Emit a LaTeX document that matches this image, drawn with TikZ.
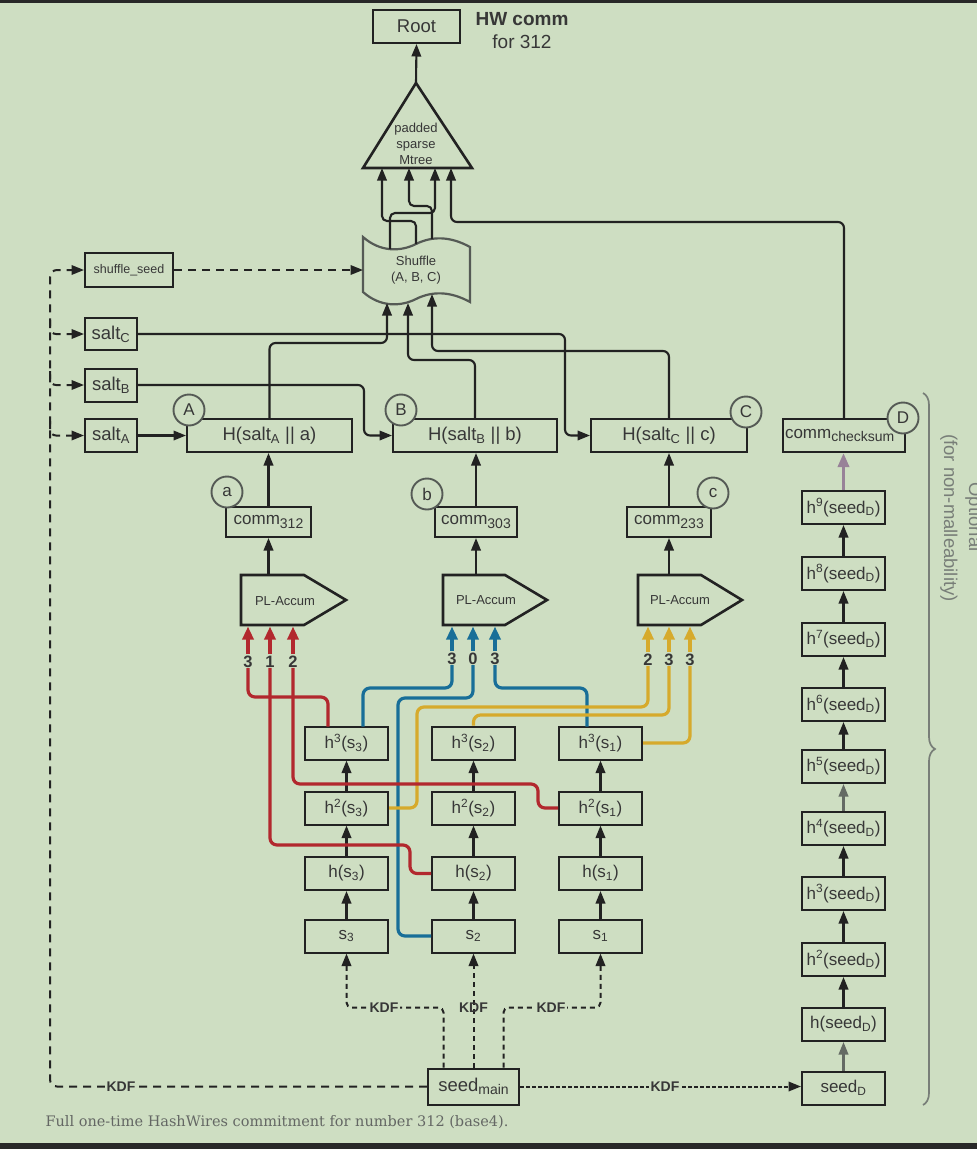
\documentclass[tikz,border=0pt]{standalone}
\usepackage{fontspec}
\setmainfont{Liberation Sans}
\newfontfamily\capfont{DejaVu Serif}
\usetikzlibrary{arrows.meta,decorations.pathreplacing,calc}
\definecolor{bg}{RGB}{206,222,194}
\definecolor{ln}{RGB}{34,34,34}
\definecolor{tx}{RGB}{55,55,55}
\definecolor{shc}{RGB}{85,90,85}
\definecolor{wred}{RGB}{178,40,46}
\definecolor{wblue}{RGB}{24,110,152}
\definecolor{wyel}{RGB}{214,170,44}
\definecolor{mauve}{RGB}{152,130,152}
\definecolor{grarr}{RGB}{100,106,100}
\definecolor{brc}{RGB}{120,126,120}
\definecolor{captc}{RGB}{100,103,100}
\definecolor{dark}{RGB}{40,40,40}
\newcommand{\fsL}{\fontsize{18.5}{20}\selectfont}
\newcommand{\fsM}{\fontsize{17}{19}\selectfont}
\newcommand{\fsS}{\fontsize{13}{16}\selectfont}
\newcommand{\fsK}{\fontsize{14}{16}\selectfont}
\newcommand{\lowsub}[1]{\raisebox{-3.5pt}{\fontsize{14}{14}\selectfont #1}}
\begin{document}
\begin{tikzpicture}[x=1pt,y=-1pt,
  box/.style={draw=ln, line width=2pt, fill=bg, inner sep=0pt, text=tx},
  chain/.style={box, minimum width=83pt, minimum height=33pt, font=\fsM},
  arr/.style={draw=ln, line width=2.1pt, -{Triangle[length=12.5pt,width=9.5pt]}},
  arrD/.style={-{Triangle[length=12.5pt,width=9.5pt]}},
  circ/.style={circle, draw=shc, line width=1.9pt, fill=bg, minimum size=31pt, inner sep=0pt, text=tx, font=\fsM},
  plst/.style={draw=ln, line width=2.6pt, fill=bg, line join=miter},
  carr/.style={line width=3.2pt, -{Triangle[length=13pt,width=11pt]}},
  cw/.style={line width=3.2pt, rounded corners=7pt},
  digit/.style={font=\bfseries\fontsize{16.5}{16.5}\selectfont, text=tx, inner sep=0pt},
  ldash/.style={draw=ln, line width=2pt, dash pattern=on 8pt off 6pt},
  kdash/.style={draw=ln, line width=2pt, dash pattern=on 5pt off 4pt},
  ddash/.style={draw=ln, line width=2pt, dash pattern=on 3.5pt off 2.5pt},
  kdf/.style={font=\bfseries\fsK, text=tx, inner sep=1.5pt}
]
\fill[bg] (0,0) rectangle (977,1149);
\useasboundingbox (0,0) rectangle (977,1149);
\clip (0,0) rectangle (977,1149);
\fill[dark] (0,0) rectangle (977,3);
\fill[dark] (0,1143) rectangle (977,1149);

% ---------- top ----------
\node[box, minimum width=87pt, minimum height=33pt, font=\fsL] (root) at (416.5,26.5) {Root};
\node[font=\bfseries\fontsize{19}{21}\selectfont, text=tx] (hw) at (522,19) {HW comm};
\node[font=\fontsize{19}{21}\selectfont, text=tx] (for) at (522,42) {for 312};

\coordinate (tapex) at (416,83);
\coordinate (tbl) at (363,168);
\coordinate (tbr) at (472,168);
\draw[draw=ln, line width=2.6pt, fill=bg, line join=miter] (tapex) -- (tbr) -- (tbl) -- cycle;
\node[font=\fsS, align=center, text=tx] (mtree) at (416,144) {padded\\sparse\\Mtree};
\draw[arr] (tapex) -- (root.south);
\coordinate (t1) at (382,168);
\coordinate (t2) at (409,168);
\coordinate (t3) at (435,168);
\coordinate (t4) at (451,168);

% ---------- shuffle ----------
\draw[draw=shc, line width=2.2pt, fill=bg] (363,237) .. controls (380,252) and (400,252) .. (416,244) .. controls (432,236) and (450,236) .. (470,247) -- (470,302) .. controls (450,291) and (432,291) .. (416,299) .. controls (400,307) and (380,307) .. (363,292) -- cycle;
\node[font=\fsS, align=center, text=tx] (shuf) at (416,270) {Shuffle\\(A, B, C)};
\coordinate (so1) at (390,249);
\coordinate (so2) at (416,244);
\coordinate (so3) at (432,239);
\coordinate (si1) at (387,303);
\coordinate (si2) at (408,303);
\coordinate (si3) at (432,294);
\coordinate (sl) at (363,270);

\draw[arr, rounded corners=5pt] (so1) |- (435,213) -- (t3);
\draw[arr, rounded corners=5pt] (so2) |- (382,221) -- (t1);
\draw[arr, rounded corners=5pt] (so3) |- (409,206) -- (t2);

% ---------- salts ----------
\node[box, minimum width=88pt, minimum height=34pt, font=\fontsize{12.5}{14}\selectfont] (ss) at (129,270) {shuffle\_seed};
\node[box, minimum width=52pt, minimum height=32pt, font=\fsL] (sC) at (111,334) {salt\textsubscript{C}};
\node[box, minimum width=52pt, minimum height=33pt, font=\fsL] (sB) at (111,385) {salt\textsubscript{B}};
\node[box, minimum width=52pt, minimum height=33pt, font=\fsL] (sA) at (111,435.5) {salt\textsubscript{A}};

% ---------- H boxes ----------
\node[box, minimum width=165pt, minimum height=33pt, font=\fsL] (hA) at (269.5,435.5) {H(salt\textsubscript{A} || a)};
\node[box, minimum width=164pt, minimum height=33pt, font=\fsL] (hB) at (475,435.5) {H(salt\textsubscript{B} || b)};
\node[box, minimum width=156pt, minimum height=33pt, font=\fsL] (hC) at (669,435.5) {H(salt\textsubscript{C} || c)};
\node[box, minimum width=122pt, minimum height=33pt, font=\fsM, text width=118pt, align=left] (chk) at (844,435.5) {comm\lowsub{checksum}};

\draw[arr, rounded corners=6pt] (chk.north) |- (451,222) -- (t4);
\draw[ldash, arrD] (ss.east) -- (sl);

\draw[arr] (sA.east) -- (hA.west);
\draw[arr, rounded corners=6pt] (sB.east) -- (364,385) |- (hB.west);
\draw[arr, rounded corners=6pt] (sC.east) -- (565,334) |- (hC.west);

\draw[arr, rounded corners=6pt] (hA.north) |- (387,343) -- (si1);
\draw[arr, rounded corners=6pt] (hB.north) |- (408,360) -- (si2);
\draw[arr, rounded corners=6pt] (hC.north) |- (432,351) -- (si3);

% ---------- comm boxes ----------
\node[box, minimum width=85pt, minimum height=30pt, font=\fsM] (c312) at (268.5,522) {comm\lowsub{312}};
\node[box, minimum width=82pt, minimum height=30pt, font=\fsM] (c303) at (476,522) {comm\lowsub{303}};
\node[box, minimum width=84pt, minimum height=30pt, font=\fsM] (c233) at (669,522) {comm\lowsub{233}};
\draw[arr] (c312.north) -- (c312.north |- hA.south);
\draw[arr] (c303.north) -- (c303.north |- hB.south);
\draw[arr] (c233.north) -- (c233.north |- hC.south);

% circles
\node[circ] (cA) at (189,410) {A};
\node[circ] (cB) at (401,410) {B};
\node[circ] (cC) at (746,412) {C};
\node[circ] (cD) at (903,418) {D};
\node[circ] (ca) at (227,492) {a};
\node[circ] (cb) at (427,494) {b};
\node[circ] (cc) at (713,493) {c};

% ---------- PL-Accum ----------
\draw[plst] (241,575) -- (304,575) -- (346,600) -- (304,625) -- (241,625) -- cycle;
\draw[plst] (443,575) -- (505,575) -- (547,600) -- (505,625) -- (443,625) -- cycle;
\draw[plst] (638,575) -- (701,575) -- (742,600) -- (701,625) -- (638,625) -- cycle;
\node[font=\fsS, text=tx] (pl1) at (285,601) {PL-Accum};
\node[font=\fsS, text=tx] (pl2) at (486,600) {PL-Accum};
\node[font=\fsS, text=tx] (pl3) at (680,600) {PL-Accum};
\coordinate (p1t) at (268.5,575);
\coordinate (p2t) at (476,575);
\coordinate (p3t) at (669,575);
\draw[arr] (p1t) -- (c312.south);
\draw[arr] (p2t) -- (c303.south);
\draw[arr] (p3t) -- (c233.south);
\coordinate (plb) at (0,626.5);

% digits
\node[digit] (dr1) at (248,662) {3};
\node[digit] (dr2) at (270,662) {1};
\node[digit] (dr3) at (293,662) {2};
\node[digit] (db1) at (452,659) {3};
\node[digit] (db2) at (473,659) {0};
\node[digit] (db3) at (495,659) {3};
\node[digit] (dy1) at (648,660) {2};
\node[digit] (dy2) at (669,660) {3};
\node[digit] (dy3) at (690,660) {3};
\foreach \n in {dr1,dr2,dr3} \draw[carr, draw=wred, fill=wred] ($(\n.north)+(0,-2)$) -- (\n |- plb);
\foreach \n in {db1,db2,db3} \draw[carr, draw=wblue, fill=wblue] ($(\n.north)+(0,-2)$) -- (\n |- plb);
\foreach \n in {dy1,dy2,dy3} \draw[carr, draw=wyel, fill=wyel] ($(\n.north)+(0,-2)$) -- (\n |- plb);

% ---------- hash chains ----------
\node[chain] (h3s3) at (346.5,743) {h\textsuperscript{3}(s\textsubscript{3})};
\node[chain] (h2s3) at (346.5,808) {h\textsuperscript{2}(s\textsubscript{3})};
\node[chain] (h1s3) at (346.5,873.5) {h(s\textsubscript{3})};
\node[chain] (s3) at (346.5,936) {s\textsubscript{3}};
\node[chain] (h3s2) at (473.5,743) {h\textsuperscript{3}(s\textsubscript{2})};
\node[chain] (h2s2) at (473.5,808) {h\textsuperscript{2}(s\textsubscript{2})};
\node[chain] (h1s2) at (473.5,873.5) {h(s\textsubscript{2})};
\node[chain] (s2) at (473.5,936) {s\textsubscript{2}};
\node[chain] (h3s1) at (600.5,743) {h\textsuperscript{3}(s\textsubscript{1})};
\node[chain] (h2s1) at (600.5,808) {h\textsuperscript{2}(s\textsubscript{1})};
\node[chain] (h1s1) at (600.5,873.5) {h(s\textsubscript{1})};
\node[chain] (s1) at (600.5,936) {s\textsubscript{1}};
\foreach \c in {3,2,1} {
  \draw[arr] (s\c.north) -- (h1s\c.south);
  \draw[arr] (h1s\c.north) -- (h2s\c.south);
  \draw[arr] (h2s\c.north) -- (h3s\c.south);
}

% colored wires
\draw[cw, draw=wblue] (db1.south) |- (363,688) -- (363,726.5);
\draw[cw, draw=wblue] (db2.south) |- (398,698) |- (s2.west);
\draw[cw, draw=wblue] (db3.south) |- (587,688) -- (587,726.5);
\draw[cw, draw=wyel] (dy1.south) |- (417,707) |- (h2s3.east);
\draw[cw, draw=wyel] (dy2.south) |- (473.5,715) -- (h3s2.north);
\draw[cw, draw=wyel] (dy3.south) |- (h3s1.east);
\draw[cw, draw=wred] (dr1.south) |- (328,697) -- (328,726.5);
\draw[cw, draw=wred] (dr2.south) |- (410,845) |- (h1s2.west);
\draw[cw, draw=wred] (dr3.south) |- (538,784) |- (h2s1.west);

% ---------- right chain ----------
\node[chain] (d9) at (843.5,507.5) {h\textsuperscript{9}(seed\textsubscript{D})};
\node[chain] (d8) at (843.5,573.5) {h\textsuperscript{8}(seed\textsubscript{D})};
\node[chain] (d7) at (843.5,639.5) {h\textsuperscript{7}(seed\textsubscript{D})};
\node[chain] (d6) at (843.5,704.5) {h\textsuperscript{6}(seed\textsubscript{D})};
\node[chain] (d5) at (843.5,766.5) {h\textsuperscript{5}(seed\textsubscript{D})};
\node[chain] (d4) at (843.5,828.5) {h\textsuperscript{4}(seed\textsubscript{D})};
\node[chain] (d3) at (843.5,893.5) {h\textsuperscript{3}(seed\textsubscript{D})};
\node[chain] (d2) at (843.5,959.5) {h\textsuperscript{2}(seed\textsubscript{D})};
\node[chain] (d1) at (843.5,1024.5) {h(seed\textsubscript{D})};
\node[chain] (seedD) at (843.5,1088) {seed\textsubscript{D}};
\draw[line width=3.4pt, draw=mauve, -{Triangle[length=14pt,width=11pt]}] (d9.north) -- (d9.north |- chk.south);
\draw[arr] (d8.north) -- (d9.south);
\draw[arr] (d7.north) -- (d8.south);
\draw[arr] (d6.north) -- (d7.south);
\draw[arr] (d5.north) -- (d6.south);
\draw[arr, draw=grarr] (d4.north) -- (d5.south);
\draw[arr] (d3.north) -- (d4.south);
\draw[arr] (d2.north) -- (d3.south);
\draw[arr] (d1.north) -- (d2.south);
\draw[arr, draw=grarr] (seedD.north) -- (d1.south);

% brace and notes
\draw[draw=brc, line width=1.7pt, decorate, decoration={brace, amplitude=12pt}] (923,393) -- (923,1105);
\node[rotate=-90, font=\fsL, text=brc] (nonm) at (949,518) {(for non-malleability)};
\node[rotate=-90, font=\fsL, text=brc] (opt) at (974,517) {Optional};

% ---------- seeds / KDF ----------
\node[box, minimum width=91pt, minimum height=36pt, font=\fsL] (sm) at (473.5,1086.5) {seed\lowsub{main}};

\draw[kdash, arrD] (sm.north) -- (s2.south);
\draw[kdash, arrD, rounded corners=5pt] ($(sm.north)+(-30,0)$) -- ++(0,-60) -| (s3.south);
\draw[kdash, arrD, rounded corners=5pt] ($(sm.north)+(30,0)$) -- ++(0,-60) -| (s1.south);
\node[kdf, fill=bg] (k1) at (384,1008) {KDF};
\node[kdf] (k2) at (473.5,1008) {KDF};
\node[kdf, fill=bg] (k3) at (551,1008) {KDF};

\draw[ldash, arrD, rounded corners=7pt] (sm.west) -- (50,1086.5) -- (50,270) -- (ss.west);
\draw[ldash, arrD, rounded corners=6pt] (50,320) |- (sC.west);
\draw[ldash, arrD, rounded corners=6pt] (50,371) |- (sB.west);
\draw[ldash, arrD, rounded corners=6pt] (50,421) |- (sA.west);
\node[kdf, fill=bg] (k0) at (121,1086.5) {KDF};

\draw[ddash, arrD] (sm.east) -- (sm.east -| seedD.west);
\node[kdf, fill=bg] (k4) at (665,1086.5) {KDF};

\node[anchor=west, font=\capfont\fontsize{14.5}{16}\selectfont, text=captc] (cap) at (42,1122) {Full one-time HashWires commitment for number 312 (base4).};
\end{tikzpicture}
\end{document}
